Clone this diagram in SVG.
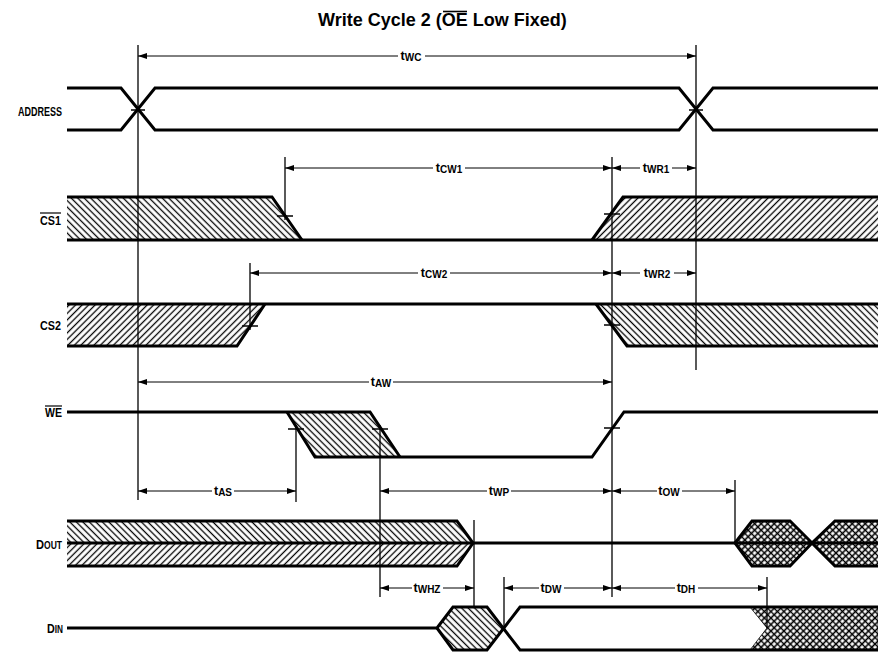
<svg xmlns="http://www.w3.org/2000/svg" width="878" height="654" viewBox="0 0 878 654">
<defs>
<pattern id="hb" width="4.6" height="4.6" patternUnits="userSpaceOnUse" patternTransform="rotate(-45)"><line x1="2.3" y1="0" x2="2.3" y2="4.6" stroke="#000" stroke-width="1.3"/></pattern>
<pattern id="hf" width="4.6" height="4.6" patternUnits="userSpaceOnUse" patternTransform="rotate(45)"><line x1="2.3" y1="0" x2="2.3" y2="4.6" stroke="#000" stroke-width="1.3"/></pattern>
<pattern id="xh" width="4.6" height="4.6" patternUnits="userSpaceOnUse" patternTransform="rotate(45)"><rect width="4.6" height="4.6" fill="#fff"/><path d="M0,2.3 H4.6 M2.3,0 V4.6" stroke="#000" stroke-width="1.6"/></pattern>
<marker id="ar" markerWidth="9" markerHeight="6" refX="9" refY="3" orient="auto" markerUnits="userSpaceOnUse"><path d="M0,0 L9,3 L0,6 z" fill="#000"/></marker>
</defs>
<style>
.sig{fill:none;stroke:#000;stroke-width:3;stroke-linejoin:miter}
.ref{stroke:#000;stroke-width:1.3;fill:none}
.tk{stroke:#000;stroke-width:1.5}
.dim{stroke:#000;stroke-width:1;marker-end:url(#ar)}
.lbl{font-family:"Liberation Sans",Arial,sans-serif;font-weight:bold;font-size:13px;fill:#000}
.dl{font-family:"Liberation Sans",Arial,sans-serif;font-weight:bold;font-size:12.5px;fill:#000;text-anchor:middle}
.sub{font-size:10px}
.title{font-family:"Liberation Sans",Arial,sans-serif;font-weight:bold;font-size:18px;fill:#000}
</style>
<rect width="878" height="654" fill="#fff"/>
<g id="title">
<text class="title" x="318" y="26">Write Cycle 2 (OE Low Fixed)</text>
<line x1="443" y1="11.5" x2="467" y2="11.5" stroke="#000" stroke-width="1.6"/>
</g>
<g id="labels">
<text class="lbl" x="18" y="116" textLength="44" lengthAdjust="spacingAndGlyphs">ADDRESS</text>
<text class="lbl" x="40" y="225" textLength="21" lengthAdjust="spacingAndGlyphs">CS1</text>
<line x1="40" y1="213" x2="61" y2="213" stroke="#000" stroke-width="1.2"/>
<text class="lbl" x="40" y="330" textLength="21" lengthAdjust="spacingAndGlyphs">CS2</text>
<text class="lbl" x="45" y="417" textLength="17" lengthAdjust="spacingAndGlyphs">WE</text>
<line x1="45" y1="406" x2="62" y2="406" stroke="#000" stroke-width="1.2"/>
<text class="lbl" x="36" y="549" textLength="26" lengthAdjust="spacingAndGlyphs">D<tspan font-size="10">OUT</tspan></text>
<text class="lbl" x="47" y="633" textLength="16" lengthAdjust="spacingAndGlyphs">D<tspan font-size="10">IN</tspan></text>
</g>
<g id="address">
<path class="sig" d="M67,88 L121,88 L155,130 L679,130 L713,88 L878,88"/>
<path class="sig" d="M67,130 L121,130 L155,88 L679,88 L713,130 L878,130"/>
</g>
<g id="cs1">
<polygon points="67,197 272,197 302,240 67,240" fill="url(#hb)"/>
<polygon points="592,240 623,197 878,197 878,240" fill="url(#hf)"/>
<path class="sig" d="M67,197 L272,197 L302,240"/>
<path class="sig" d="M592,240 L623,197 L878,197"/>
<path class="sig" d="M67,240 L878,240"/>
</g>
<g id="cs2">
<polygon points="67,304 265,304 237,346 67,346" fill="url(#hf)"/>
<polygon points="596,304 878,304 878,346 627,346" fill="url(#hb)"/>
<path class="sig" d="M67,304 L878,304"/>
<path class="sig" d="M67,346 L237,346 L265,304"/>
<path class="sig" d="M596,304 L627,346 L878,346"/>
</g>
<g id="we">
<polygon points="287,412 370,412 400,457 315,457" fill="url(#hb)"/>
<path class="sig" d="M67,412 L370,412 L400,457"/>
<path class="sig" d="M287,412 L315,457 L592,457 L624,412 L878,412"/>
</g>
<g id="dout">
<polygon points="67,521 457,521 473,543 67,543" fill="url(#hb)"/>
<polygon points="67,543 473,543 457,566 67,566" fill="url(#hf)"/>
<polygon points="735,543 752,521 790,521 812,543 790,566 752,566" fill="url(#xh)"/>
<polygon points="812,543 835,521 878,521 878,566 835,566" fill="url(#xh)"/>
<path class="sig" d="M67,521 L457,521 L473,543 L457,566 L67,566"/>
<path class="sig" d="M67,543 L878,543"/>
<path class="sig" d="M735,543 L752,521 L790,521 L812,543 L790,566 L752,566 Z"/>
<path class="sig" d="M878,521 L835,521 L812,543 L835,566 L878,566"/>
</g>
<g id="din">
<polygon points="437,628 453,607 487,607 503,628 487,650 453,650" fill="url(#hb)"/>
<polygon points="750,607 878,607 878,650 750,650 767,628" fill="url(#xh)" stroke="#000" stroke-width="0.8"/>
<path class="sig" d="M67,628 L437,628 L453,607 L487,607 L520,650 L878,650"/>
<path class="sig" d="M437,628 L453,650 L487,650 L520,607 L878,607"/>
</g>
<g id="connectors">
<line class="ref" x1="138" y1="45" x2="138" y2="500"/>
<line class="ref" x1="696" y1="45" x2="696" y2="370"/>
<line class="ref" x1="285" y1="157" x2="285" y2="220"/>
<line class="ref" x1="612" y1="157" x2="612" y2="597"/>
<line class="ref" x1="250" y1="263" x2="250" y2="330"/>
<line class="ref" x1="296" y1="425" x2="296" y2="502"/>
<line class="ref" x1="380" y1="425" x2="380" y2="597"/>
<line class="ref" x1="735" y1="480" x2="735" y2="543"/>
<line class="ref" x1="474" y1="520" x2="474" y2="607"/>
<line class="ref" x1="504" y1="577" x2="504" y2="628"/>
<line class="ref" x1="767" y1="577" x2="767" y2="628"/>
<line class="tk" x1="131" y1="110" x2="145" y2="110"/>
<line class="tk" x1="689" y1="110" x2="703" y2="110"/>
<line class="tk" x1="277" y1="216" x2="293" y2="216"/>
<line class="tk" x1="604" y1="214" x2="620" y2="214"/>
<line class="tk" x1="242" y1="326" x2="258" y2="326"/>
<line class="tk" x1="604" y1="325" x2="620" y2="325"/>
<line class="tk" x1="288" y1="429" x2="304" y2="429"/>
<line class="tk" x1="372" y1="429" x2="388" y2="429"/>
<line class="tk" x1="604" y1="428" x2="620" y2="428"/>
<line class="dim" x1="398" y1="56" x2="138" y2="56"/><line class="dim" x1="425" y1="56" x2="696" y2="56"/>
<text class="dl" x="411" y="60">t<tspan class="sub" dy="1">WC</tspan></text>
<line class="dim" x1="433" y1="168" x2="285" y2="168"/><line class="dim" x1="465" y1="168" x2="612" y2="168"/>
<text class="dl" x="449" y="172">t<tspan class="sub" dy="1">CW1</tspan></text>
<line class="dim" x1="640" y1="168" x2="612" y2="168"/><line class="dim" x1="672" y1="168" x2="696" y2="168"/>
<text class="dl" x="656" y="172">t<tspan class="sub" dy="1">WR1</tspan></text>
<line class="dim" x1="418" y1="273" x2="250" y2="273"/><line class="dim" x1="450" y1="273" x2="612" y2="273"/>
<text class="dl" x="434" y="277">t<tspan class="sub" dy="1">CW2</tspan></text>
<line class="dim" x1="640" y1="273" x2="612" y2="273"/><line class="dim" x1="674" y1="273" x2="696" y2="273"/>
<text class="dl" x="657" y="277">t<tspan class="sub" dy="1">WR2</tspan></text>
<line class="dim" x1="369" y1="382" x2="138" y2="382"/><line class="dim" x1="393" y1="382" x2="612" y2="382"/>
<text class="dl" x="381" y="386">t<tspan class="sub" dy="1">AW</tspan></text>
<line class="dim" x1="212" y1="491" x2="138" y2="491"/><line class="dim" x1="234" y1="491" x2="296" y2="491"/>
<text class="dl" x="223" y="495">t<tspan class="sub" dy="1">AS</tspan></text>
<line class="dim" x1="487" y1="491" x2="380" y2="491"/><line class="dim" x1="511" y1="491" x2="612" y2="491"/>
<text class="dl" x="499" y="495">t<tspan class="sub" dy="1">WP</tspan></text>
<line class="dim" x1="657" y1="491" x2="612" y2="491"/><line class="dim" x1="682" y1="491" x2="735" y2="491"/>
<text class="dl" x="669" y="495">t<tspan class="sub" dy="1">OW</tspan></text>
<line class="dim" x1="412" y1="588" x2="380" y2="588"/><line class="dim" x1="443" y1="588" x2="474" y2="588"/>
<text class="dl" x="427" y="592">t<tspan class="sub" dy="1">WHZ</tspan></text>
<line class="dim" x1="539" y1="588" x2="504" y2="588"/><line class="dim" x1="564" y1="588" x2="612" y2="588"/>
<text class="dl" x="551" y="592">t<tspan class="sub" dy="1">DW</tspan></text>
<line class="dim" x1="675" y1="588" x2="612" y2="588"/><line class="dim" x1="698" y1="588" x2="767" y2="588"/>
<text class="dl" x="686" y="592">t<tspan class="sub" dy="1">DH</tspan></text>
</g>
</svg>
